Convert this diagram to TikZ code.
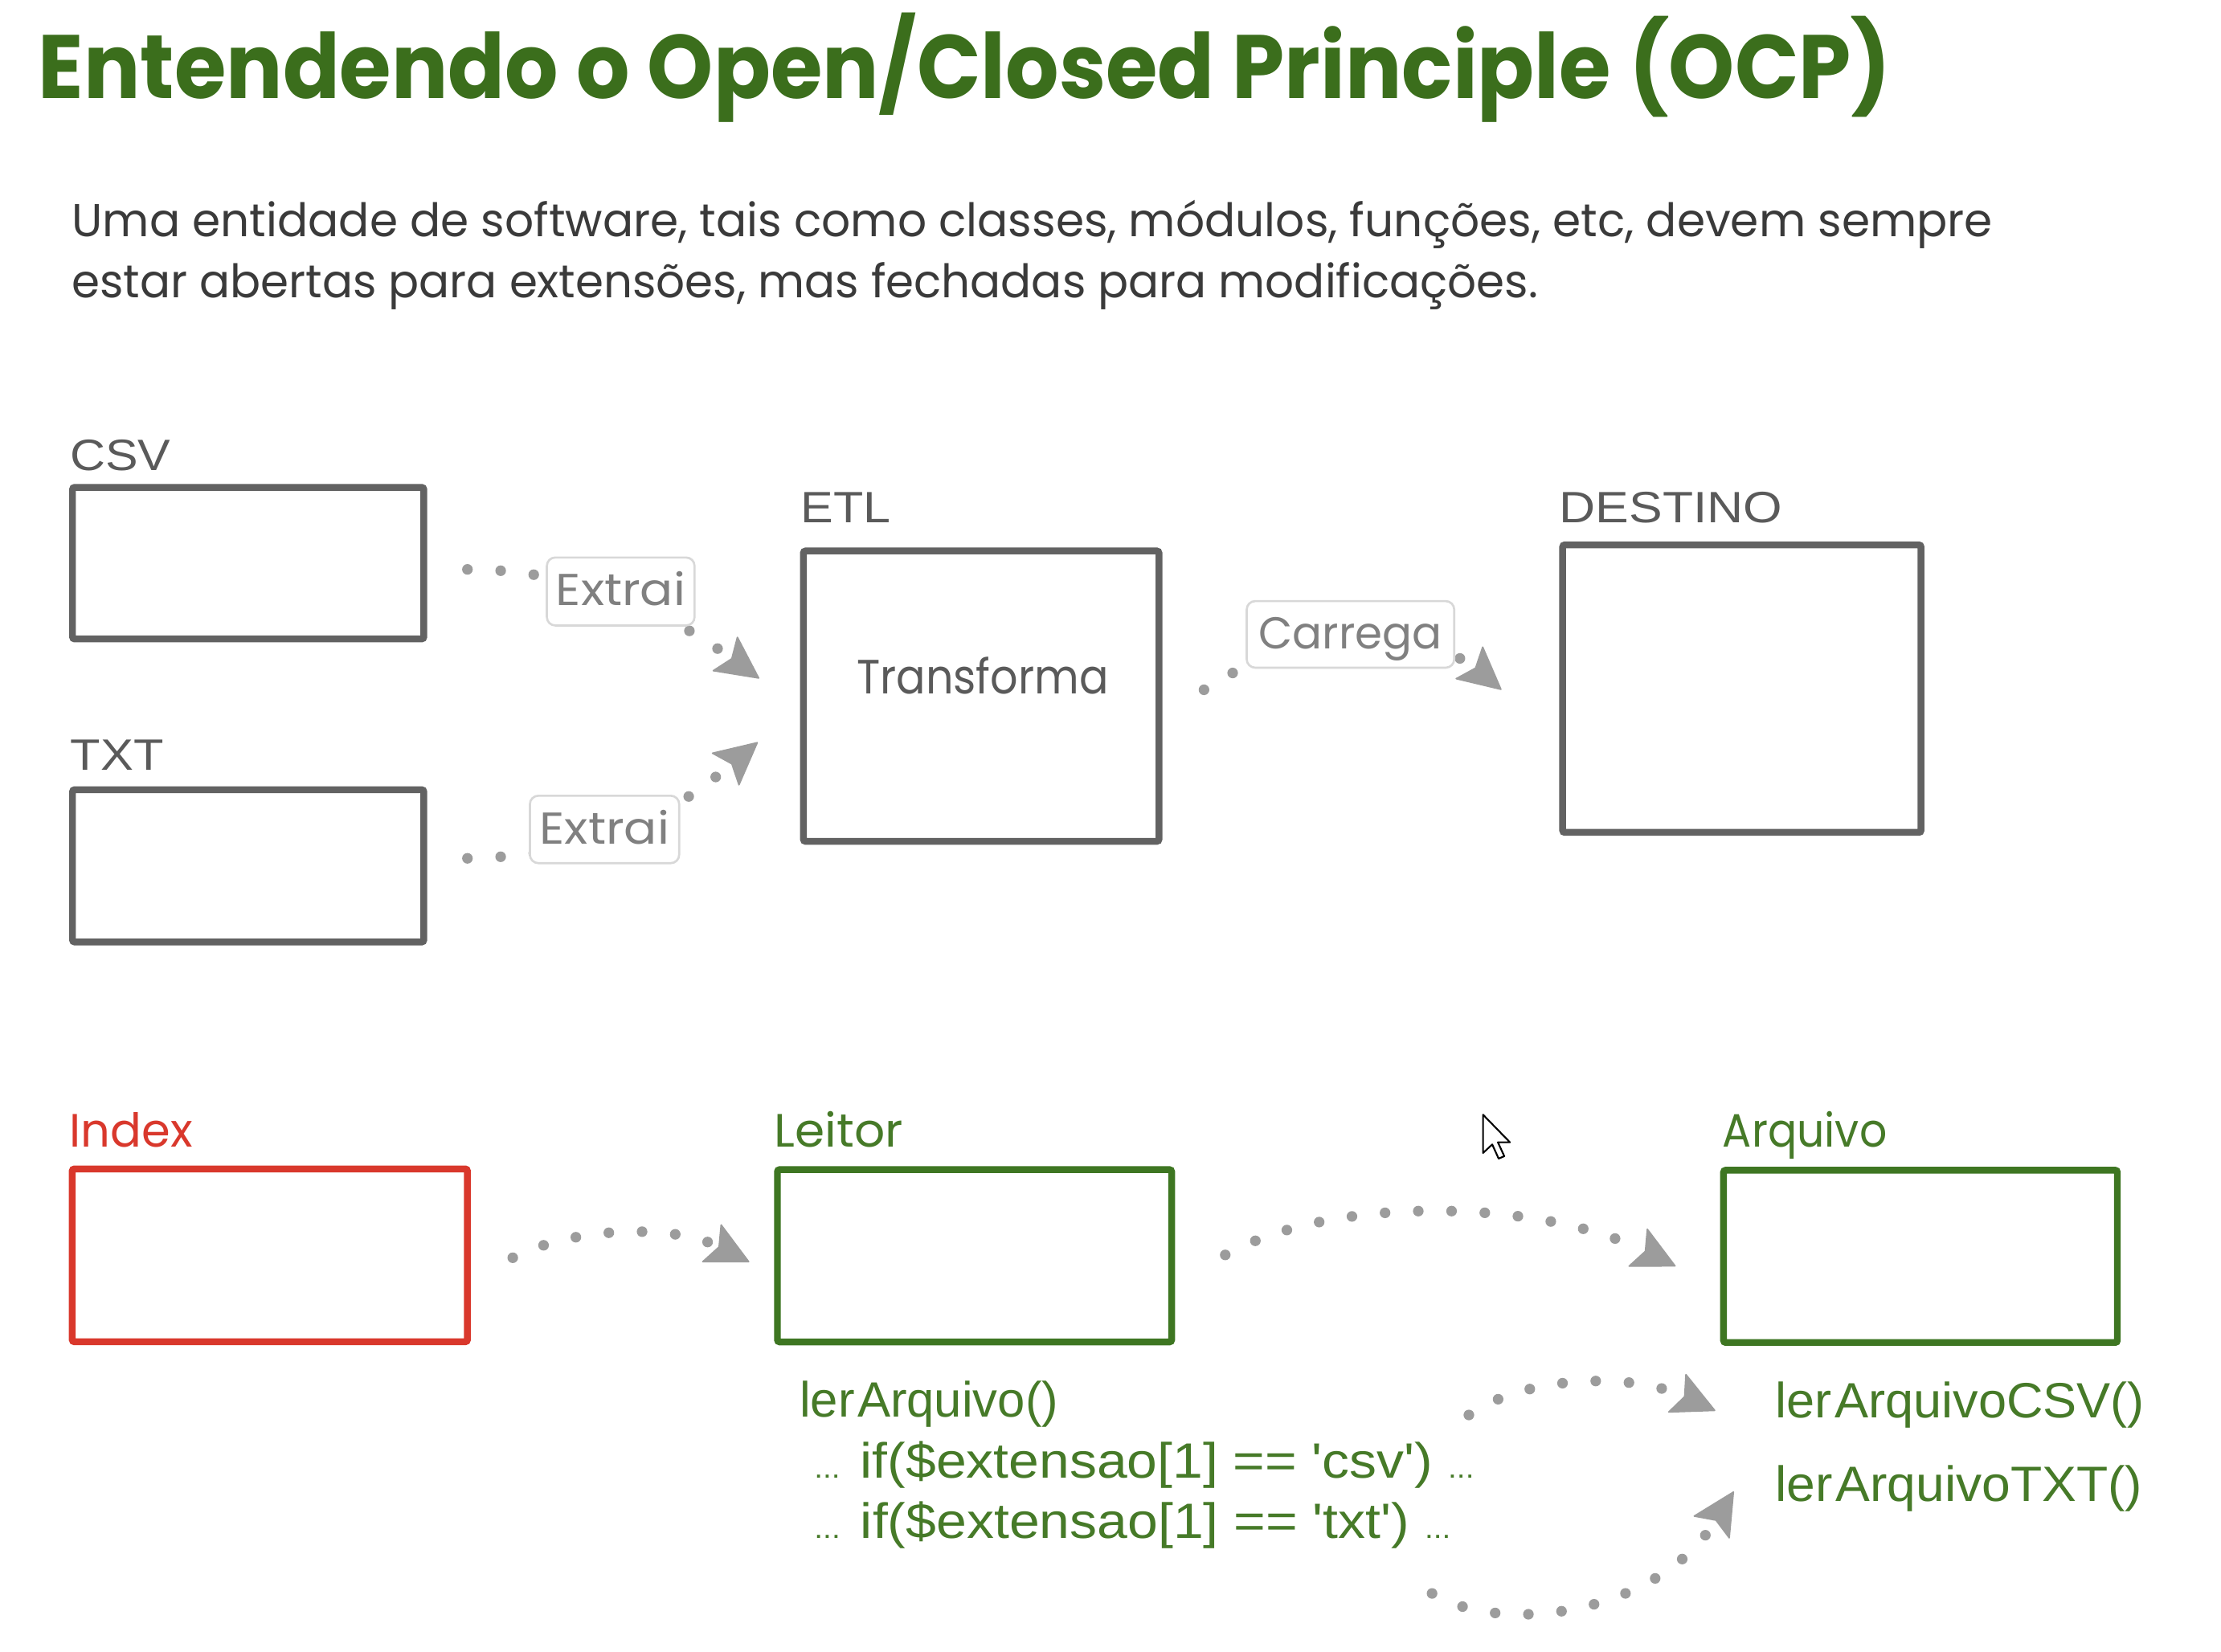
\documentclass[tikz,border=0pt]{standalone}
\usepackage{graphicx}
\usepackage{fontspec}
\setmainfont{Poppins}
\newfontfamily\labfont{Liberation Sans}
\newfontfamily\codefont[Ligatures=TeXOff]{Liberation Sans}
\usetikzlibrary{arrows.meta}
\definecolor{titlegreen}{HTML}{3B6E1C}
\definecolor{textdark}{HTML}{3A3A3A}
\definecolor{boxgray}{HTML}{626262}
\definecolor{labgray}{HTML}{5A5A5A}
\definecolor{taggray}{HTML}{808080}
\definecolor{tagline}{HTML}{D8D8D8}
\definecolor{dotgray}{HTML}{9C9C9C}
\definecolor{boxred}{HTML}{D9382C}
\definecolor{boxgreen}{HTML}{3E7622}
\definecolor{codegreen}{HTML}{467A28}
\newcommand\fitx[2]{\sbox0{#2}\pgfmathsetmacro\fxr{#1/\the\wd0}\scalebox{\fxr}[1]{\usebox0}}
\tikzset{
  graybox/.style={draw=boxgray, line width=4.8pt, rectangle, rounded corners=1.5pt, inner sep=0pt},
  redbox/.style={graybox, draw=boxred},
  greenbox/.style={graybox, draw=boxgreen},
  tagbox/.style={draw=tagline, line width=1.5pt, fill=white, rounded corners=6pt, inner sep=0pt, text=taggray, anchor=base},
  txt/.style={anchor=base west, inner sep=0pt},
  dotline/.style={draw=dotgray, line width=7.5pt, line cap=round, dash pattern=on 0pt off 23.5pt,
    -{Stealth[length=31pt,width=31pt,inset=6pt,line width=1pt,round]}},
}
\begin{document}
\begin{tikzpicture}[x=1pt,y=-1pt]
\useasboundingbox[fill=white] (0,0) rectangle (1568,1166.3);

% title and text
\node[txt, text=titlegreen] (title) at (27,69.6) {\fitx{1308}{\fontsize{63.6}{70}\selectfont\bfseries Entendendo o Open/Closed Principle (OCP)}};
\node[txt, text=textdark] (p1) at (50.6,167) {\fitx{1356}{\fontsize{32.6}{40}\selectfont Uma entidade de software, tais como classes, módulos, funções, etc, devem sempre}};
\node[txt, text=textdark] (p2) at (50.6,210) {\fitx{1035}{\fontsize{32.6}{40}\selectfont estar abertas para extensões, mas fechadas para modificações.}};

% top boxes
\node[graybox, minimum width=248pt, minimum height=107pt] (csv) at (175.2,397.6) {};
\node[graybox, minimum width=248pt, minimum height=107.5pt] (txtb) at (175.2,611.3) {};
\node[graybox, minimum width=251pt, minimum height=205pt] (etl) at (692.7,491.5) {};
\node[graybox, minimum width=253pt, minimum height=203pt] (dest) at (1229.7,486.2) {};

\node[txt, text=labgray] (csvl) at (49.4,332) {\fitx{71}{\labfont\fontsize{31}{36}\selectfont CSV}};
\node[txt, text=labgray] (txtl) at (49.7,544) {\fitx{65.7}{\labfont\fontsize{31}{36}\selectfont TXT}};
\node[txt, text=labgray] (etll) at (565,369) {\fitx{63.5}{\labfont\fontsize{31}{36}\selectfont ETL}};
\node[txt, text=labgray] (destl) at (1100.8,369) {\fitx{157.4}{\labfont\fontsize{31}{36}\selectfont DESTINO}};
\node[anchor=base, inner sep=0pt, text=labgray] (trans) at (693.7,490) {\fitx{177.8}{\fontsize{34}{40}\selectfont Transforma}};

% top connectors
\coordinate (a1s) at (330,402);
\coordinate (a1e) at (536,479);
\coordinate (a2s) at (330,606);
\coordinate (a2e) at (535,524);
\coordinate (a3s) at (850,487);
\coordinate (a3e) at (1060,487);
\draw[dotline] (a1s) .. controls (430,402) and (500,453) .. (a1e);
\draw[dotline] (a2s) .. controls (430,604) and (480,570) .. (a2e);
\draw[dotline] (a3s) .. controls (900,450) and (1010,445) .. (a3e);

\node[tagbox, minimum width=104.3pt, text height=33.9pt, text depth=14.1pt] (ex1) at (438.2,427.5) {\fitx{91.5}{\fontsize{31.5}{36}\selectfont Extrai}};
\node[tagbox, minimum width=105.4pt, text height=34pt, text depth=13.6pt] (ex2) at (426.8,595.8) {\fitx{91.6}{\fontsize{31.5}{36}\selectfont Extrai}};
\node[tagbox, minimum width=146.5pt, text height=33.9pt, text depth=13.1pt] (carr) at (953.4,458.3) {\fitx{129.3}{\fontsize{31.5}{36}\selectfont Carrega}};

% bottom boxes
\node[redbox, minimum width=279pt, minimum height=122pt] (index) at (190.5,886.3) {};
\node[greenbox, minimum width=278.3pt, minimum height=121.6pt] (leitor) at (688,886.6) {};
\node[greenbox, minimum width=278pt, minimum height=121.6pt] (arq) at (1355.8,887) {};

\node[txt, text=boxred] (indexl) at (48.9,810) {\fitx{86.8}{\fontsize{33}{38}\selectfont Index}};
\node[txt, text=codegreen] (leitorl) at (546.6,809.7) {\fitx{90.8}{\fontsize{33}{38}\selectfont Leitor}};
\node[txt, text=codegreen] (arql) at (1216,810) {\fitx{116}{\fontsize{33}{38}\selectfont Arquivo}};

\node[txt, text=codegreen] (ler) at (564.3,1000.6) {\fitx{182.7}{\codefont\fontsize{35}{40}\selectfont ler\kern2pt Arquivo()}};
\node[txt, text=codegreen] (ifcsv) at (574.7,1043.7) {\fitx{465.8}{\codefont\fontsize{35}{40}\selectfont{\fontsize{20}{20}\selectfont...} if(\$extensao[1] == 'csv') {\fontsize{20}{20}\selectfont...}}};
\node[txt, text=codegreen] (iftxt) at (574.7,1085.8) {\fitx{449.3}{\codefont\fontsize{35}{40}\selectfont{\fontsize{20}{20}\selectfont...} if(\$extensao[1] == 'txt') {\fontsize{20}{20}\selectfont...}}};
\node[txt, text=codegreen] (lcsv) at (1253.3,1000.7) {\fitx{260.5}{\codefont\fontsize{35}{40}\selectfont ler\kern2pt ArquivoCSV()}};
\node[txt, text=codegreen] (ltxt) at (1253.3,1060) {\fitx{259}{\codefont\fontsize{35}{40}\selectfont ler\kern2pt ArquivoTXT()}};

% bottom connectors
\coordinate (a4s) at (362,888);
\coordinate (a4e) at (529,891);
\coordinate (a5s) at (865,886);
\coordinate (a5e) at (1183,894);
\coordinate (a6s) at (1037,999);
\coordinate (a6e) at (1211,996);
\coordinate (a7s) at (1011,1125);
\coordinate (a7e) at (1224,1053);
\draw[dotline] (a4s) .. controls (405,866) and (475,864) .. (a4e);
\draw[dotline] (a5s) .. controls (945,842) and (1090,848) .. (a5e);
\draw[dotline] (a6s) .. controls (1075,972) and (1150,968) .. (a6e);
\draw[dotline] (a7s) .. controls (1060,1155) and (1170,1140) .. (a7e);

% mouse cursor
\draw[black, line width=1.2pt, fill=white, line join=round] (1047,787) -- ++(0,27) -- ++(6.5,-6) -- ++(4.5,10) -- ++(4,-1.7) -- ++(-4.5,-9.8) -- ++(8.5,0) -- cycle;
\end{tikzpicture}
\end{document}
